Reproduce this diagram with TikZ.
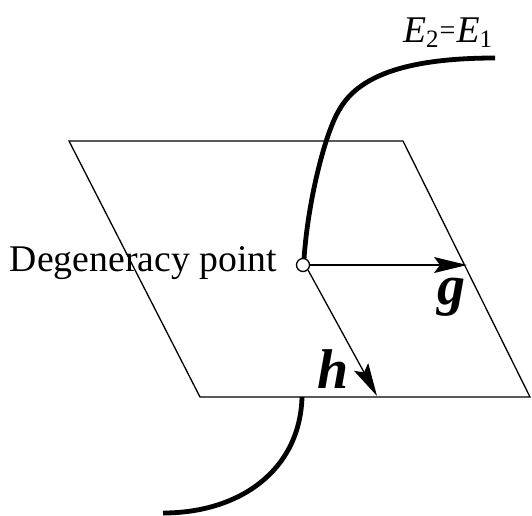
\documentclass[tikz,border=0pt]{standalone}
\usepackage{fontspec}
\setmainfont{Liberation Serif}
\usetikzlibrary{arrows.meta}

\begin{document}
\begin{tikzpicture}[x=1pt,y=-1pt,plane/.style={draw,line width=1.3pt},vec/.style={-{Stealth[length=33pt,width=16pt,inset=6pt]},line width=1.3pt},branch/.style={line width=4.8pt},lbl/.style={inner sep=0pt,font=\fontsize{37.7}{40}\selectfont},vlbl/.style={inner sep=0pt,font=\fontsize{56}{56}\selectfont\bfseries\itshape}]
\useasboundingbox (0,0) rectangle (532,515);
% tilted plane
\coordinate (tl) at (69,141);
\coordinate (tr) at (403,141);
\coordinate (br) at (530,397);
\coordinate (bl) at (200,397);
\draw[plane] (tl) -- (tr) -- (br) -- (bl) -- cycle;
% the two branches of the seam
\coordinate (top) at (495,58);
\coordinate (bend) at (338,112);
\coordinate (cross) at (302,397);
\coordinate (bottom) at (163,513);
\draw[branch] (304,259) .. controls (308,200) and (325,135) .. (bend) .. controls (352,86) and (385,58) .. (top);
\draw[branch] (cross) .. controls (300,470) and (240,513) .. (bottom);
\node[circle,draw,fill=white,line width=1.3pt,minimum size=13pt,inner sep=0pt] (dp) at (303,265) {};
\coordinate (gtip) at (467,265);
\coordinate (htip) at (377,396);
\draw[vec] (dp.east) -- (gtip);
\draw[vec] (dp.south east) -- (htip);
\node[vlbl,anchor=base] (glbl) at (451,304) {g};
\node[vlbl,anchor=base] (hlbl) at (333,388) {h};
\node[lbl,anchor=base east] (dplbl) at (277,271) {Degeneracy point};
\node[lbl,anchor=base west] (elbl) at (403,42) {\itshape E\raisebox{-5pt}{\fontsize{25}{25}\selectfont\upshape 2}\kern1pt\raisebox{3pt}{\fontsize{28}{28}\selectfont\upshape =}\kern1pt E\raisebox{-5pt}{\fontsize{25}{25}\selectfont\upshape 1}};
\end{tikzpicture}
\end{document}
